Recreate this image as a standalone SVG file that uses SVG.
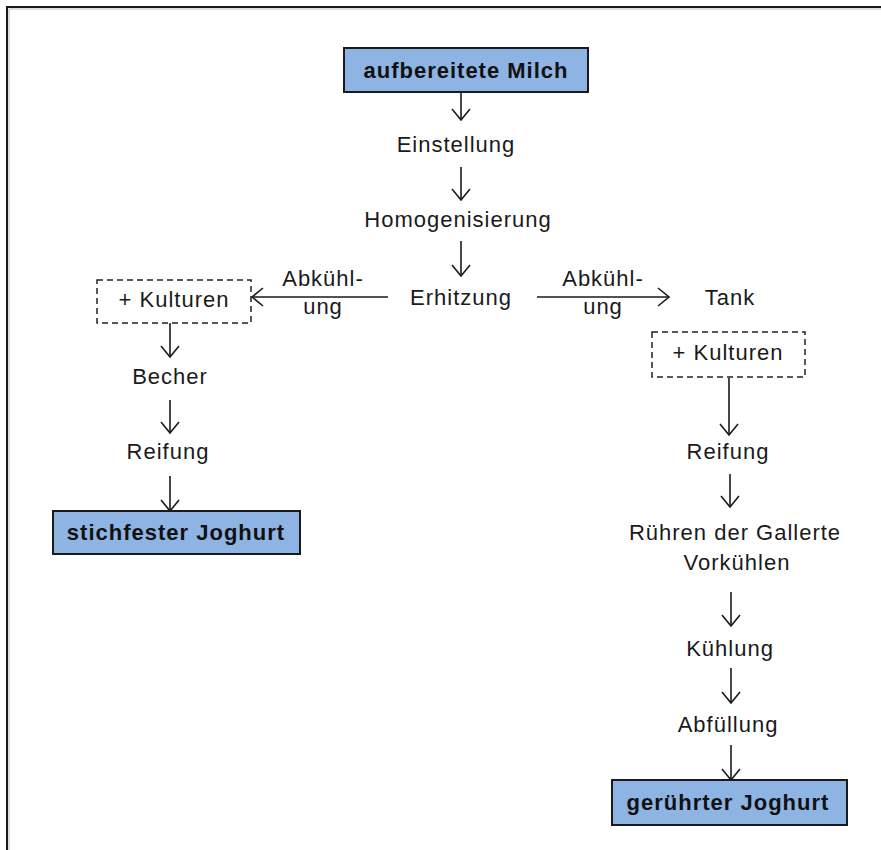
<svg xmlns="http://www.w3.org/2000/svg" width="881" height="850" viewBox="0 0 881 850">
<style>
.t{font-family:"Liberation Sans",Arial,sans-serif;font-size:22px;letter-spacing:1px;fill:#1a1a1a;text-anchor:middle}
.b{font-family:"Liberation Sans",Arial,sans-serif;font-size:22px;font-weight:bold;letter-spacing:1px;fill:#111;text-anchor:middle}
.box{fill:#8db4e2;stroke:#1a1a1a;stroke-width:2}
.dash{fill:none;stroke:#222;stroke-width:1.5;stroke-dasharray:6 4}
.c{stroke:#1a1a1a;stroke-width:1.6;fill:none}
</style>
<defs>
<marker id="a" markerWidth="14" markerHeight="20" refX="12" refY="10" orient="auto" markerUnits="userSpaceOnUse">
<path d="M1,1 L12,10 L1,19" fill="none" stroke="#1a1a1a" stroke-width="1.6"/>
</marker>
</defs>
<rect width="881" height="850" fill="#fff"/>
<rect x="7" y="7" width="900" height="900" fill="none" stroke="#1a1a1a" stroke-width="2"/>
<line x1="9" y1="9" x2="881" y2="9" stroke="#bbb" stroke-width="1"/>
<line x1="9" y1="9" x2="9" y2="850" stroke="#bbb" stroke-width="1"/>

<g id="connectors">
<line class="c" x1="461" y1="92" x2="461" y2="120" marker-end="url(#a)"/>
<line class="c" x1="461" y1="167" x2="461" y2="200" marker-end="url(#a)"/>
<line class="c" x1="461" y1="241" x2="461" y2="276" marker-end="url(#a)"/>
<line class="c" x1="388" y1="297" x2="252" y2="297" marker-end="url(#a)"/>
<line class="c" x1="537" y1="297" x2="669" y2="297" marker-end="url(#a)"/>
<line class="c" x1="170" y1="323" x2="170" y2="357" marker-end="url(#a)"/>
<line class="c" x1="170" y1="400" x2="170" y2="433" marker-end="url(#a)"/>
<line class="c" x1="170" y1="476" x2="170" y2="511" marker-end="url(#a)"/>
<line class="c" x1="729" y1="378" x2="729" y2="435" marker-end="url(#a)"/>
<line class="c" x1="730" y1="474" x2="730" y2="507" marker-end="url(#a)"/>
<line class="c" x1="731" y1="592" x2="731" y2="626" marker-end="url(#a)"/>
<line class="c" x1="731" y1="668" x2="731" y2="703" marker-end="url(#a)"/>
<line class="c" x1="731" y1="745" x2="731" y2="780" marker-end="url(#a)"/>
</g>

<g id="n-milch">
<rect class="box" x="344" y="48" width="244" height="44"/>
<text class="b" x="466" y="78">aufbereitete Milch</text>
</g>
<g id="n-einstellung"><text class="t" x="456" y="152">Einstellung</text></g>
<g id="n-homogen"><text class="t" x="458" y="227">Homogenisierung</text></g>
<g id="n-erhitzung"><text class="t" x="461" y="305">Erhitzung</text></g>
<g id="l-abk-left">
<text class="t" x="323" y="286">Abkühl-</text>
<text class="t" x="323" y="314">ung</text>
</g>
<g id="l-abk-right">
<text class="t" x="603" y="286">Abkühl-</text>
<text class="t" x="603" y="314">ung</text>
</g>
<g id="n-kulturen-l">
<rect class="dash" x="97" y="280" width="154" height="43"/>
<text class="t" x="174" y="307">+ Kulturen</text>
</g>
<g id="n-becher"><text class="t" x="170" y="384">Becher</text></g>
<g id="n-reifung-l"><text class="t" x="168" y="459">Reifung</text></g>
<g id="n-stichfest">
<rect class="box" x="53" y="511" width="247" height="43"/>
<text class="b" x="176" y="540">stichfester Joghurt</text>
</g>
<g id="n-tank"><text class="t" x="730" y="305">Tank</text></g>
<g id="n-kulturen-r">
<rect class="dash" x="652" y="332" width="153" height="45"/>
<text class="t" x="728" y="360">+ Kulturen</text>
</g>
<g id="n-reifung-r"><text class="t" x="728" y="459">Reifung</text></g>
<g id="n-ruehren">
<text class="t" x="735" y="540">Rühren der Gallerte</text>
<text class="t" x="737" y="570">Vorkühlen</text>
</g>
<g id="n-kuehlung"><text class="t" x="730" y="656">Kühlung</text></g>
<g id="n-abfuellung"><text class="t" x="728" y="732">Abfüllung</text></g>
<g id="n-geruehrt">
<rect class="box" x="612" y="780" width="235" height="45"/>
<text class="b" x="728" y="810">gerührter Joghurt</text>
</g>
</svg>
